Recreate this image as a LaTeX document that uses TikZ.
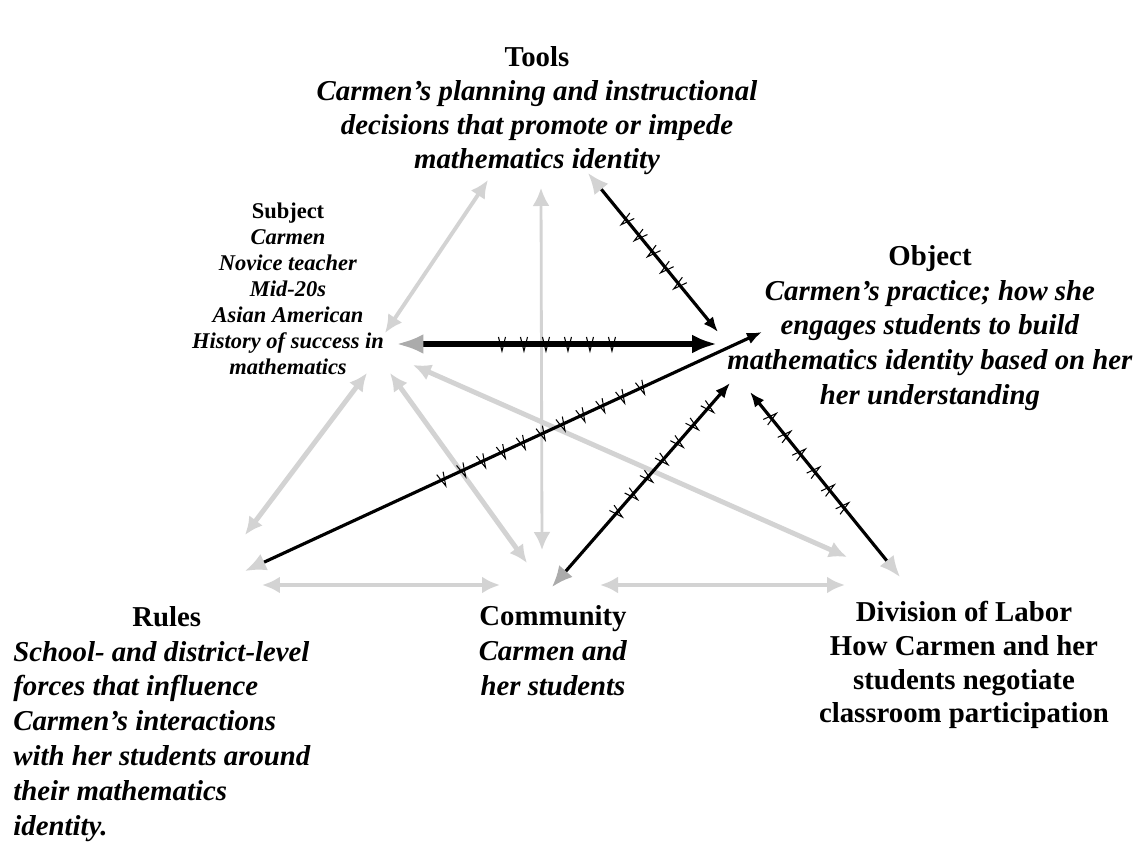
\documentclass[tikz,border=0pt]{standalone}
\usepackage{fontspec}
\setmainfont{Liberation Serif}
\usetikzlibrary{arrows.meta,decorations.markings}
\definecolor{lightg}{HTML}{D3D3D3}
\definecolor{midg}{HTML}{ABABAB}
\tikzset{
  bigtext/.style={font=\fontsize{16.4}{19.4}\selectfont\bfseries, align=center, inner sep=0pt},
  subjtext/.style={font=\fontsize{12.8}{14.8}\selectfont\bfseries, align=center, inner sep=0pt},
  grayline/.style={draw=lightg, line width=2.8pt, {Latex[length=0.36cm,width=0.34cm]}-{Latex[length=0.36cm,width=0.34cm]}},
  blackline/.style={draw=black, line width=1.8pt, {Latex[color=#1,length=0.42cm,width=0.36cm]}-{Latex[length=0.3cm,width=0.24cm]}},
  vticks/.style n args={3}{decoration={markings,
      mark=between positions #1 and #2 step #3 with {\draw[-,black,line width=0.6pt] (-2pt,4pt) -- (0pt,-4pt) -- (2pt,4pt);}},
    postaction={decorate}}
}
\begin{document}
\begin{tikzpicture}[x=0.02cm,y=-0.02cm]
\useasboundingbox (0,0) rectangle (1136,844);
% texts
\node[bigtext, anchor=north] (tools) at (537,46) {Tools\\ \textit{Carmen’s planning and instructional}\\ \textit{decisions that promote or impede}\\ \textit{mathematics identity}};
\node[subjtext, anchor=north] (subject) at (288,203) {Subject\\ \textit{Carmen}\\ \textit{Novice teacher}\\ \textit{Mid-20s}\\ \textit{Asian American}\\ \textit{History of success in}\\ \textit{mathematics}};
\node[bigtext, anchor=north, font=\fontsize{16.4}{19.8}\selectfont\bfseries] (object) at (930,245) {Object\\ \textit{Carmen’s practice; how she}\\ \textit{engages students to build}\\ \textit{mathematics identity based on her}\\ \textit{her understanding}};
\node[bigtext, align=left, anchor=north west, font=\fontsize{16.4}{19.8}\selectfont\bfseries] (rules) at (13,606) {\hspace*{2.38cm}Rules\\ \textit{School- and district-level}\\ \textit{forces that influence}\\ \textit{Carmen’s interactions}\\ \textit{with her students around}\\ \textit{their mathematics}\\ \textit{identity.}};
\node[bigtext, anchor=north, font=\fontsize{16.4}{20}\selectfont\bfseries] (community) at (553,605) {Community\\ \textit{Carmen and}\\ \textit{her students}};
\node[bigtext, anchor=north, font=\fontsize{16.4}{19.2}\selectfont\bfseries] (divlab) at (964,601) {Division of Labor\\ How Carmen and her\\ students negotiate\\ classroom participation};
% arrow ends
\coordinate (ts1) at (488,180); \coordinate (ts2) at (385,333);
\coordinate (tc1) at (541,188); \coordinate (tc2) at (542,550);
\coordinate (sr1) at (367,373); \coordinate (sr2) at (245,535);
\coordinate (sc1) at (390,373); \coordinate (sc2) at (527,563);
\coordinate (sd1) at (413,365); \coordinate (sd2) at (847,557);
\coordinate (rc1) at (262,585); \coordinate (rc2) at (500,585);
\coordinate (cd1) at (600,585); \coordinate (cd2) at (845,585);
\coordinate (so1) at (396,344); \coordinate (so2) at (717,344);
\coordinate (to1) at (588,173); \coordinate (to2) at (718,332);
\coordinate (ro1) at (245,571); \coordinate (ro2) at (762,332);
\coordinate (co1) at (552,587); \coordinate (co2) at (730,383);
\coordinate (do1) at (900,577); \coordinate (do2) at (750,392);
% gray links
\draw[grayline, line width=2.2pt] (ts1) -- (ts2);
\draw[grayline, line width=1.6pt] (tc1) -- (tc2);
\draw[grayline] (sr1) -- (sr2);
\draw[grayline] (sc1) -- (sc2);
\draw[grayline] (sd1) -- (sd2);
\draw[grayline] (rc1) -- (rc2);
\draw[grayline] (cd1) -- (cd2);
% black links with ticks
\draw[blackline=midg, line width=3.4pt, {Latex[color=midg,length=0.55cm,width=0.4cm]}-{Latex[length=0.5cm,width=0.38cm]}, vticks={2.12cm}{4.4cm}{0.44cm}] (so1) -- (so2);
\draw[blackline=lightg, vticks={1.22cm}{2.95cm}{0.415cm}] (to1) -- (to2);
\draw[blackline=lightg, vticks={4.36cm}{8.8cm}{0.438cm}] (ro1) -- (ro2);
\draw[blackline=midg, vticks={1.98cm}{4.8cm}{0.463cm}] (co1) -- (co2);
\draw[blackline=lightg, vticks={1.8cm}{4.15cm}{0.46cm}] (do1) -- (do2);
\end{tikzpicture}
\end{document}
